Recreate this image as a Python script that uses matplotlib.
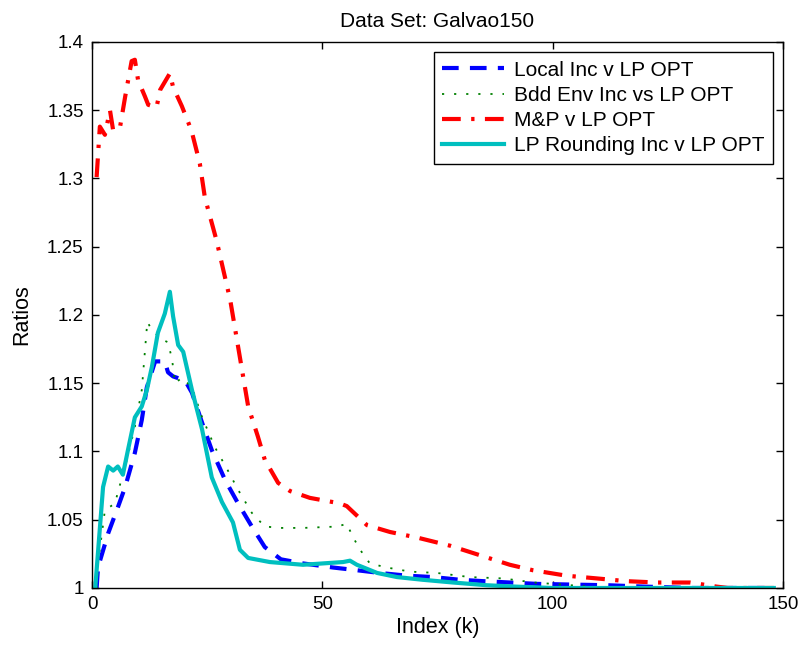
import matplotlib
matplotlib.use("Agg")
import matplotlib.pyplot as plt

plt.rcParams['font.family'] = ['Liberation Sans', 'DejaVu Sans']

title = "Data Set: Galvao150"
xlabel = "Index (k)"
ylabel = "Ratios"

local_k = [1, 1.3, 3.5, 5.6, 7.2, 9.3, 10.8, 11.9, 13.7, 15.8, 16.5, 17.6, 20.2, 21.7, 23.9, 26, 28.9, 31.7, 34.7, 37.5, 41, 45.8, 52.3, 57.5, 62.5, 68.4, 74, 79.9, 84.9, 90.7, 96.6, 104, 112, 120, 130, 148]
local_r = [1.0, 1.015, 1.04, 1.059, 1.074, 1.099, 1.123, 1.147, 1.166, 1.166, 1.158, 1.155, 1.152, 1.143, 1.121, 1.101, 1.079, 1.062, 1.045, 1.030, 1.021, 1.018, 1.015, 1.013, 1.011, 1.009, 1.008, 1.006, 1.005, 1.004, 1.003, 1.0025, 1.002, 1.001, 1.0, 1.0]

bdd_k = [1, 1.3, 2.8, 5, 5.6, 7.2, 9.3, 10.8, 12, 13, 15.2, 16.5, 17.4, 18, 19.5, 21.7, 23.9, 26.7, 29.5, 31.7, 34.7, 37.5, 41.2, 45.8, 53.2, 55.3, 56.7, 58.2, 60.3, 64, 69, 74.9, 82, 89.2, 96, 104, 112, 148]
bdd_r = [1.0, 1.018, 1.057, 1.062, 1.07, 1.089, 1.118, 1.145, 1.195, 1.189, 1.182, 1.18, 1.167, 1.15, 1.154, 1.147, 1.125, 1.103, 1.086, 1.072, 1.055, 1.045, 1.044, 1.044, 1.045, 1.047, 1.037, 1.028, 1.018, 1.015, 1.012, 1.011, 1.008, 1.007, 1.004, 1.002, 1.0, 1.0]

mp_k = [1, 1.7, 2.8, 3.9, 4.6, 6.1, 7.2, 8.6, 9.3, 10, 11.5, 12.2, 14, 14.8, 16.9, 17.6, 19.5, 21.6, 23.4, 24.5, 27, 30, 33.9, 36, 37.5, 40.4, 43, 47.3, 53.8, 55.3, 59.7, 64.7, 70.5, 77.7, 84.2, 90.7, 95.7, 103, 109.6, 116, 122.6, 129.8, 135.6, 138, 148]
mp_r = [1.301, 1.338, 1.332, 1.35, 1.335, 1.338, 1.36, 1.386, 1.387, 1.372, 1.36, 1.354, 1.352, 1.365, 1.377, 1.367, 1.353, 1.335, 1.311, 1.286, 1.255, 1.211, 1.133, 1.111, 1.094, 1.077, 1.071, 1.066, 1.062, 1.06, 1.046, 1.041, 1.037, 1.031, 1.024, 1.017, 1.013, 1.009, 1.007, 1.005, 1.004, 1.004, 1.001, 1.0, 1.0]

lpr_k = [0.7, 2.4, 3.5, 4.6, 5.6, 6.7, 7.8, 9.3, 10.8, 11.9, 13, 14.3, 15.8, 16.9, 17.6, 18.7, 19.8, 21.7, 23.9, 26, 28.2, 30.6, 32.1, 33.9, 38.6, 45.8, 54.5, 56, 57.5, 61.9, 66.2, 71.8, 78.4, 85.7, 92, 100, 148]
lpr_r = [1.0, 1.074, 1.089, 1.086, 1.089, 1.083, 1.101, 1.125, 1.133, 1.145, 1.162, 1.187, 1.201, 1.217, 1.199, 1.178, 1.173, 1.145, 1.116, 1.081, 1.063, 1.048, 1.028, 1.022, 1.019, 1.017, 1.019, 1.02, 1.017, 1.011, 1.008, 1.006, 1.004, 1.002, 1.001, 1.0, 1.0]

labels = ["Local Inc v LP OPT", "Bdd Env Inc vs LP OPT", "M&P v LP OPT", "LP Rounding Inc v LP OPT"]

fig = plt.figure(figsize=(8.05, 6.45), dpi=100)
ax = fig.add_axes([0.1143, 0.0884, 0.8584, 0.8465])

ax.plot(local_k, local_r, color='#0000ff', lw=3.0, dashes=(4, 2.7), label=labels[0])
ax.plot(bdd_k, bdd_r, color='#008000', lw=1.3, dashes=(1.2, 5.5), label=labels[1])
ax.plot(mp_k, mp_r, color='#ff0000', lw=3.0, dashes=(4.5, 2.5, 0.8, 2.5), label=labels[2])
ax.plot(lpr_k, lpr_r, color='#00bfbf', lw=3.0, label=labels[3])

ax.set_xlim(0, 150)
ax.set_ylim(1.0, 1.4)
ax.set_xticks([0, 50, 100, 150])
ax.set_yticks([1.0, 1.05, 1.1, 1.15, 1.2, 1.25, 1.3, 1.35, 1.4])
ax.set_yticklabels(["1", "1.05", "1.1", "1.15", "1.2", "1.25", "1.3", "1.35", "1.4"])
ax.tick_params(direction='in', top=True, right=True, labelsize=13.5, length=5, width=1, pad=6)
for s in ax.spines.values():
    s.set_linewidth(1.0)

ax.set_title(title, fontsize=15, pad=11)
ax.set_xlabel(xlabel, fontsize=15.5, labelpad=3)
ax.set_ylabel(ylabel, fontsize=15.5, labelpad=11)

leg = ax.legend(loc='upper right', fontsize=15, frameon=True, fancybox=False,
                edgecolor='black', framealpha=1, handlelength=3.0,
                borderaxespad=0.5, labelspacing=0.3, borderpad=0.4, handletextpad=0.45)
leg.get_frame().set_linewidth(1.0)

fig.savefig("out.png", dpi=100)
